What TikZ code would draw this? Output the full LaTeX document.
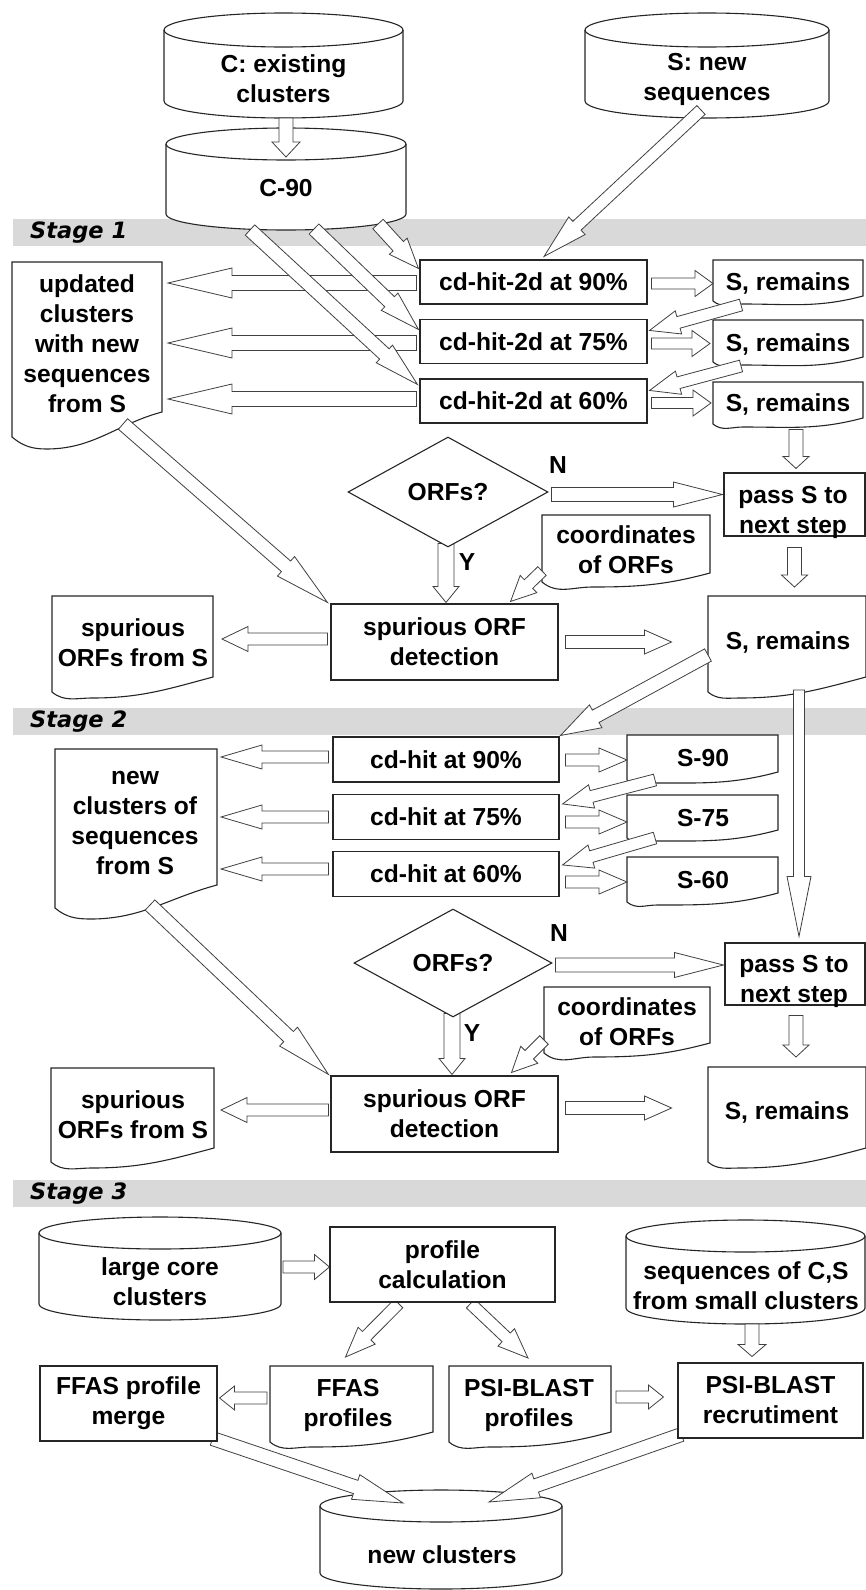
\documentclass[tikz,border=0pt]{standalone}
\usepackage{fontspec}
\setmainfont{Liberation Sans}
\newfontfamily\stagefont{DejaVu Sans}
\usetikzlibrary{calc,shapes.geometric}
\pgfdeclarelayer{bg}
\pgfdeclarelayer{shp}
\pgfdeclarelayer{arr}
\pgfsetlayers{bg,shp,arr,main}

% hollow block arrow: start, tip, shaft half width, head half width, head length
\newcommand\barrow[5]{%
  \coordinate (baA) at (#1);
  \coordinate (baB) at (#2);
  \coordinate (baC) at ($(baB)!#5!(baA)$);
  \draw[blockarrow] ($(baA)!#3!90:(baB)$) -- ($(baC)!#3!90:(baB)$) -- ($(baC)!#4!90:(baB)$) -- (baB) -- ($(baC)!#4!-90:(baB)$) -- ($(baC)!#3!-90:(baB)$) -- ($(baA)!#3!-90:(baB)$) -- cycle;%
}
% cylinder outline round a placeholder node: node, ry
\newcommand\cylout[2]{%
  \path[outl] let \p1=(#1.north west), \p2=(#1.south east) in
    (\x1,\y1-#2pt) -- (\x1,\y2+#2pt) arc[start angle=180,end angle=360,x radius={(\x2-\x1)/2},y radius=#2pt]
    -- (\x2,\y1-#2pt) arc[start angle=0,end angle=180,x radius={(\x2-\x1)/2},y radius=#2pt] -- cycle;
  \path[outlnofill] let \p1=(#1.north west), \p2=(#1.south east) in
    (\x1,\y1-#2pt) arc[start angle=180,end angle=360,x radius={(\x2-\x1)/2},y radius=#2pt];
}
% document outline: node, left drop, trough drop (below south), trough fraction
\newcommand\docout[4]{%
  \path[outl] (#1.north west) -- (#1.north east) -- (#1.south east)
    to[out=195,in=0] ($(#1.south west)!#4!(#1.south east)+(0,-#3)$)
    to[out=180,in=-40] ($(#1.south west)+(0,-#2)$) -- cycle;
}

\begin{document}
\begin{tikzpicture}[x=1pt,y=1pt,
  txt/.style={inner sep=0pt, align=center, text=black, font=\bfseries\fontsize{24.6}{30}\selectfont},
  box/.style={txt, draw=black!85, line width=1.1pt, fill=white},
  dia/.style={txt, diamond, draw=black!85, line width=1.1pt, fill=white, aspect=1.8},
  hold/.style={inner sep=0pt, outer sep=0pt},
  outl/.style={draw=black!85, line width=1.1pt, fill=white},
  outlnofill/.style={draw=black!85, line width=1.1pt},
  stageband/.style={fill=black!15, inner sep=0pt, outer sep=0pt, minimum height=27pt, minimum width=853pt, anchor=west},
  stagelbl/.style={inner sep=0pt, anchor=west, text=black, font=\stagefont\bfseries\itshape\fontsize{22.5}{27}\selectfont},
  blockarrow/.style={draw=black!75, line width=0.8pt, fill=white, line join=miter}
]
\useasboundingbox (0,0) rectangle (866,-1590);

% ---------------- Stage 1 ----------------
\node[hold, minimum width=239pt, minimum height=105pt] (cC) at (283.5,-65.5) {};
\node[txt] (cCt) at (283.5,-79) {C: existing\\clusters};
\node[hold, minimum width=244pt, minimum height=105pt] (cS) at (707,-65.5) {};
\node[txt] (cSt) at (707,-79) {S: new\\sequences};
\node[hold, minimum width=240pt, minimum height=102pt] (c90) at (286,-179) {};
\node[txt] (c90t) at (286,-188) {C-90};

\begin{pgfonlayer}{bg}
\node[stageband] (band1) at (13,-232.5) {};
\node[stageband] (band2) at (13,-721.5) {};
\node[stageband] (band3) at (13,-1193.5) {};
\end{pgfonlayer}
\node[stagelbl] (st1) at (30,-233) {Stage 1};
\node[stagelbl] (st2) at (30,-722) {Stage 2};
\node[stagelbl] (st3) at (30,-1194) {Stage 3};

\node[hold, minimum width=150pt, minimum height=150pt] (upd) at (87,-337) {};
\node[txt] (updt) at (87,-344) {updated\\clusters\\with new\\sequences\\from S};
\node[box, minimum width=227pt, minimum height=44pt] (cd90) at (533.5,-282) {cd-hit-2d at 90\%};
\node[box, minimum width=227pt, minimum height=44pt] (cd75) at (533.5,-341.5) {cd-hit-2d at 75\%};
\node[box, minimum width=227pt, minimum height=44pt] (cd60) at (533.5,-401) {cd-hit-2d at 60\%};
\node[hold, minimum width=150pt, minimum height=36pt] (sr1) at (788,-278) {};
\node[txt] (sr1t) at (788,-283) {S, remains};
\node[hold, minimum width=150pt, minimum height=37pt] (sr2) at (788,-338.5) {};
\node[txt] (sr2t) at (788,-344) {S, remains};
\node[hold, minimum width=150pt, minimum height=36pt] (sr3) at (788,-400) {};
\node[txt] (sr3t) at (788,-404) {S, remains};

\node[dia, minimum width=200pt, minimum height=110pt] (orf1) at (448,-492) {ORFs?};
\node[txt] (n1) at (558,-465) {N};
\node[txt] (y1) at (467,-562) {Y};
\node[box, minimum width=141pt, minimum height=63pt] (pass1) at (794.5,-504.5) {};
\node[txt] (pass1t) at (793,-512) {pass S to\\next step};
\node[hold, minimum width=168pt, minimum height=58pt] (coord1) at (626,-544) {};
\node[txt] (coord1t) at (626,-550) {coordinates\\of ORFs};
\node[box, minimum width=227pt, minimum height=76pt] (spd1) at (444.5,-642) {spurious ORF\\detection};
\node[hold, minimum width=161pt, minimum height=81pt] (spo1) at (132.5,-636.5) {};
\node[txt] (spo1t) at (133,-642.5) {spurious\\ORFs from S};
\node[hold, minimum width=158pt, minimum height=81pt] (srb1) at (787,-636.5) {};
\node[txt] (srb1t) at (788,-642) {S, remains};

% ---------------- Stage 2 ----------------
\node[box, minimum width=226pt, minimum height=45pt] (cdh90) at (446,-759.5) {cd-hit at 90\%};
\node[box, minimum width=226pt, minimum height=45pt] (cdh75) at (446,-817) {cd-hit at 75\%};
\node[box, minimum width=226pt, minimum height=45pt] (cdh60) at (446,-874) {cd-hit at 60\%};
\node[hold, minimum width=162pt, minimum height=136pt] (ncl) at (136,-817) {};
\node[txt] (nclt) at (135,-823) {new\\clusters of\\sequences\\from S};
\node[hold, minimum width=151pt, minimum height=37pt] (s90) at (702.5,-753.5) {};
\node[txt] (s90t) at (703,-758) {S-90};
\node[hold, minimum width=151pt, minimum height=35pt] (s75) at (702.5,-812.5) {};
\node[txt] (s75t) at (703,-818) {S-75};
\node[hold, minimum width=151pt, minimum height=36pt] (s60) at (702.5,-875) {};
\node[txt] (s60t) at (703,-880) {S-60};

\node[dia, minimum width=198pt, minimum height=108pt] (orf2) at (453,-963) {ORFs?};
\node[txt] (n2) at (559,-933) {N};
\node[txt] (y2) at (472,-1033) {Y};
\node[box, minimum width=140pt, minimum height=62pt] (pass2) at (795,-974) {};
\node[txt] (pass2t) at (794,-981) {pass S to\\next step};
\node[hold, minimum width=166pt, minimum height=56pt] (coord2) at (627,-1015) {};
\node[txt] (coord2t) at (627,-1022) {coordinates\\of ORFs};
\node[box, minimum width=227pt, minimum height=76pt] (spd2) at (444.5,-1114) {spurious ORF\\detection};
\node[hold, minimum width=163pt, minimum height=80pt] (spo2) at (132.5,-1108) {};
\node[txt] (spo2t) at (133,-1115) {spurious\\ORFs from S};
\node[hold, minimum width=158pt, minimum height=81pt] (srb2) at (787,-1107.5) {};
\node[txt] (srb2t) at (787,-1112) {S, remains};

% ---------------- Stage 3 ----------------
\node[hold, minimum width=242pt, minimum height=103pt] (lcc) at (160,-1268.5) {};
\node[txt] (lcct) at (160,-1282) {large core\\clusters};
\node[box, minimum width=225pt, minimum height=75pt] (pcalc) at (442.5,-1264.5) {profile\\calculation};
\node[hold, minimum width=239pt, minimum height=104pt] (scs) at (745.5,-1272) {};
\node[txt] (scst) at (746,-1286) {sequences of C,S\\from small clusters};
\node[box, minimum width=177pt, minimum height=75pt] (ffm) at (128.5,-1403.5) {FFAS profile\\merge};
\node[hold, minimum width=163pt, minimum height=66pt] (ffp) at (351.5,-1399) {};
\node[txt] (ffpt) at (348,-1405) {FFAS\\profiles};
\node[hold, minimum width=162pt, minimum height=66pt] (psp) at (530,-1399) {};
\node[txt] (pspt) at (529,-1405) {PSI-BLAST\\profiles};
\node[box, minimum width=185pt, minimum height=75pt] (psr) at (770.5,-1400.5) {PSI-BLAST\\recrutiment};
\node[hold, minimum width=242pt, minimum height=99pt] (ncc) at (441,-1539.5) {};
\node[txt] (ncct) at (442,-1555) {new clusters};

% ---------------- outlines ----------------
\begin{pgfonlayer}{shp}
\cylout{cC}{17}
\cylout{cS}{17}
\cylout{c90}{16}
\cylout{lcc}{16}
\cylout{scs}{16}
\cylout{ncc}{16}
\docout{upd}{25}{37}{0.23}
\docout{sr1}{5}{8}{0.2}
\docout{sr2}{5}{8}{0.2}
\docout{sr3}{6}{9}{0.2}
\docout{coord1}{9}{14}{0.3}
\docout{spo1}{15}{21}{0.25}
\docout{srb1}{15}{21}{0.2}
\docout{ncl}{23}{34}{0.22}
\docout{s90}{8}{11}{0.2}
\docout{s75}{8}{11}{0.2}
\docout{s60}{9}{12}{0.2}
\docout{coord2}{10}{14}{0.3}
\docout{spo2}{14}{20}{0.25}
\docout{srb2}{14}{20}{0.2}
\docout{ffp}{10}{15}{0.25}
\docout{psp}{10}{15}{0.25}
\end{pgfonlayer}

% ---------------- arrows ----------------
\begin{pgfonlayer}{arr}
% stage 1
\barrow{cC.south -| c90.north}{$(c90.north)+(0,-29)$}{7pt}{14pt}{15pt}
\barrow{$(cS.south)+(-6,8)$}{$(cd90.north)+(10.5,3)$}{6pt}{12pt}{45pt}
\barrow{$(cd90.west)+(-3,-1)$}{$(cd90.west -| upd.east)+(6,-1)$}{7.5pt}{15pt}{64pt}
\barrow{$(cd75.west)+(-3,-1.5)$}{$(cd75.west -| upd.east)+(6,-1.5)$}{7.5pt}{15pt}{64pt}
\barrow{$(cd60.west)+(-3,2)$}{$(cd60.west -| upd.east)+(6,2)$}{7.5pt}{15pt}{64pt}
\barrow{$(c90.south)+(92,6)$}{$(cd90.north west)+(-1,-9)$}{7pt}{12pt}{30pt}
\barrow{$(c90.south)+(28,1)$}{$(cd75.north west)+(-1,-10.5)$}{7pt}{12pt}{40pt}
\barrow{$(c90.south)+(-36,0)$}{$(cd60.north west)+(-2,-6)$}{7pt}{12pt}{45pt}
\barrow{$(cd90.east)+(4,-1.5)$}{$(cd90.east -| sr1.west)+(0,-1.5)$}{5.5pt}{13pt}{18pt}
\barrow{$(cd75.east)+(4,-2)$}{$(cd75.east -| sr2.west)+(-3,-2)$}{5.5pt}{13pt}{18pt}
\barrow{$(cd60.east)+(4,-2)$}{$(cd60.east -| sr3.west)+(-2,-2)$}{5.5pt}{13pt}{18pt}
\barrow{$(sr1.south west)+(28,-9)$}{$(cd75.north east)+(2,-11.5)$}{6pt}{12pt}{30pt}
\barrow{$(sr2.south west)+(28,-9)$}{$(cd60.north east)+(2,-12)$}{6pt}{12pt}{30pt}
\barrow{$(pass1.north)+(1.5,43)$}{$(pass1.north)+(1.5,4)$}{7pt}{13pt}{12pt}
\barrow{$(orf1.east)+(3,-2.5)$}{$(pass1.west)+(-1,10)$}{7pt}{12.5pt}{49pt}
\barrow{$(orf1.south)+(-2,4)$}{$(spd1.north)+(1.5,1)$}{8pt}{13pt}{16pt}
\barrow{$(coord1.south west)+(0,2)$}{$(spd1.north east)+(-48,2)$}{6pt}{12pt}{25pt}
\barrow{$(upd.south)+(36,-12)$}{$(spd1.north west)+(-3,1)$}{7pt}{13pt}{55pt}
\barrow{$(spd1.west)+(-3,3)$}{$(spd1.west -| spo1.east)+(9,3)$}{6pt}{12.5pt}{26pt}
\barrow{$(spd1.east)+(7,0)$}{$(spd1.east)+(113,0)$}{6.5pt}{12pt}{27pt}
\barrow{$(pass1.south)+(0,-11)$}{$(srb1.north)+(7.5,9)$}{7pt}{13pt}{12pt}
\barrow{$(srb1.west)+(0,-18.5)$}{$(cdh90.north east)+(1,1)$}{7pt}{13pt}{40pt}
\barrow{$(srb1.south)+(12,-13)$}{$(pass2.north)+(4,6)$}{5.5pt}{12pt}{60pt}
% stage 2
\barrow{$(cdh90.west)+(-4,2.5)$}{$(cdh90.west -| ncl.east)+(4,2.5)$}{6pt}{12pt}{41pt}
\barrow{$(cdh75.west)+(-4,0)$}{$(cdh75.west -| ncl.east)+(4,0)$}{6pt}{12pt}{41pt}
\barrow{$(cdh60.west)+(-4,5)$}{$(cdh60.west -| ncl.east)+(4,5)$}{6pt}{12pt}{41pt}
\barrow{$(cdh90.east)+(6,-0.5)$}{$(cdh90.east -| s90.west)+(0,-0.5)$}{6pt}{12pt}{28pt}
\barrow{$(cdh75.east)+(6,-5)$}{$(cdh75.east -| s75.west)+(0,-5)$}{6pt}{12pt}{28pt}
\barrow{$(cdh60.east)+(6,-8)$}{$(cdh60.east -| s60.west)+(0,-8)$}{6pt}{12pt}{28pt}
\barrow{$(s90.south west)+(28,-8)$}{$(cdh75.north east)+(3,-10)$}{6pt}{12pt}{30pt}
\barrow{$(s75.south west)+(28,-8)$}{$(cdh60.north east)+(3,-14)$}{6pt}{12pt}{30pt}
\barrow{$(orf2.east)+(3,-2)$}{$(pass2.west)+(-1,9)$}{7pt}{12.5pt}{49pt}
\barrow{$(orf2.south)+(-1,4)$}{$(spd2.north)+(7.5,1)$}{8pt}{13pt}{16pt}
\barrow{$(coord2.south west)+(0,3)$}{$(spd2.north east)+(-47,3)$}{6pt}{12pt}{25pt}
\barrow{$(ncl.south)+(14,-20)$}{$(spd2.north west)+(-2,1)$}{7pt}{13pt}{55pt}
\barrow{$(spd2.west)+(-2,4)$}{$(spd2.west -| spo2.east)+(7,4)$}{6pt}{12.5pt}{26pt}
\barrow{$(spd2.east)+(7,6)$}{$(spd2.east)+(113,6)$}{6.5pt}{12pt}{27pt}
\barrow{$(pass2.south)+(1,-10)$}{$(srb2.north)+(9,10)$}{7pt}{13pt}{12pt}
% stage 3
\barrow{$(lcc.east)+(2,1.5)$}{$(lcc.east -| pcalc.west)+(0,1.5)$}{6pt}{12.5pt}{15pt}
\barrow{$(pcalc.south)+(-44,-1)$}{$(ffp.north)+(-6,9)$}{6pt}{12pt}{30pt}
\barrow{$(pcalc.south)+(28,-1)$}{$(psp.north)+(-2,8)$}{6pt}{12pt}{30pt}
\barrow{$(scs.south)+(6.5,0)$}{$(psr.north)+(-18.5,6)$}{7pt}{14pt}{12pt}
\barrow{$(ffp.west)+(-3,1)$}{$(ffp.west -| ffm.east)+(2,1)$}{6pt}{12pt}{15pt}
\barrow{$(psp.east)+(5,2)$}{$(psp.east -| psr.west)+(-14,2)$}{6pt}{12pt}{15pt}
\barrow{$(ffm.south east)+(-5,3)$}{$(ncc.north)+(-38,-13)$}{7pt}{13pt}{50pt}
\barrow{$(psr.south west)+(4,4)$}{$(ncc.north)+(48,-12)$}{7pt}{13pt}{50pt}
\end{pgfonlayer}
\end{tikzpicture}
\end{document}
